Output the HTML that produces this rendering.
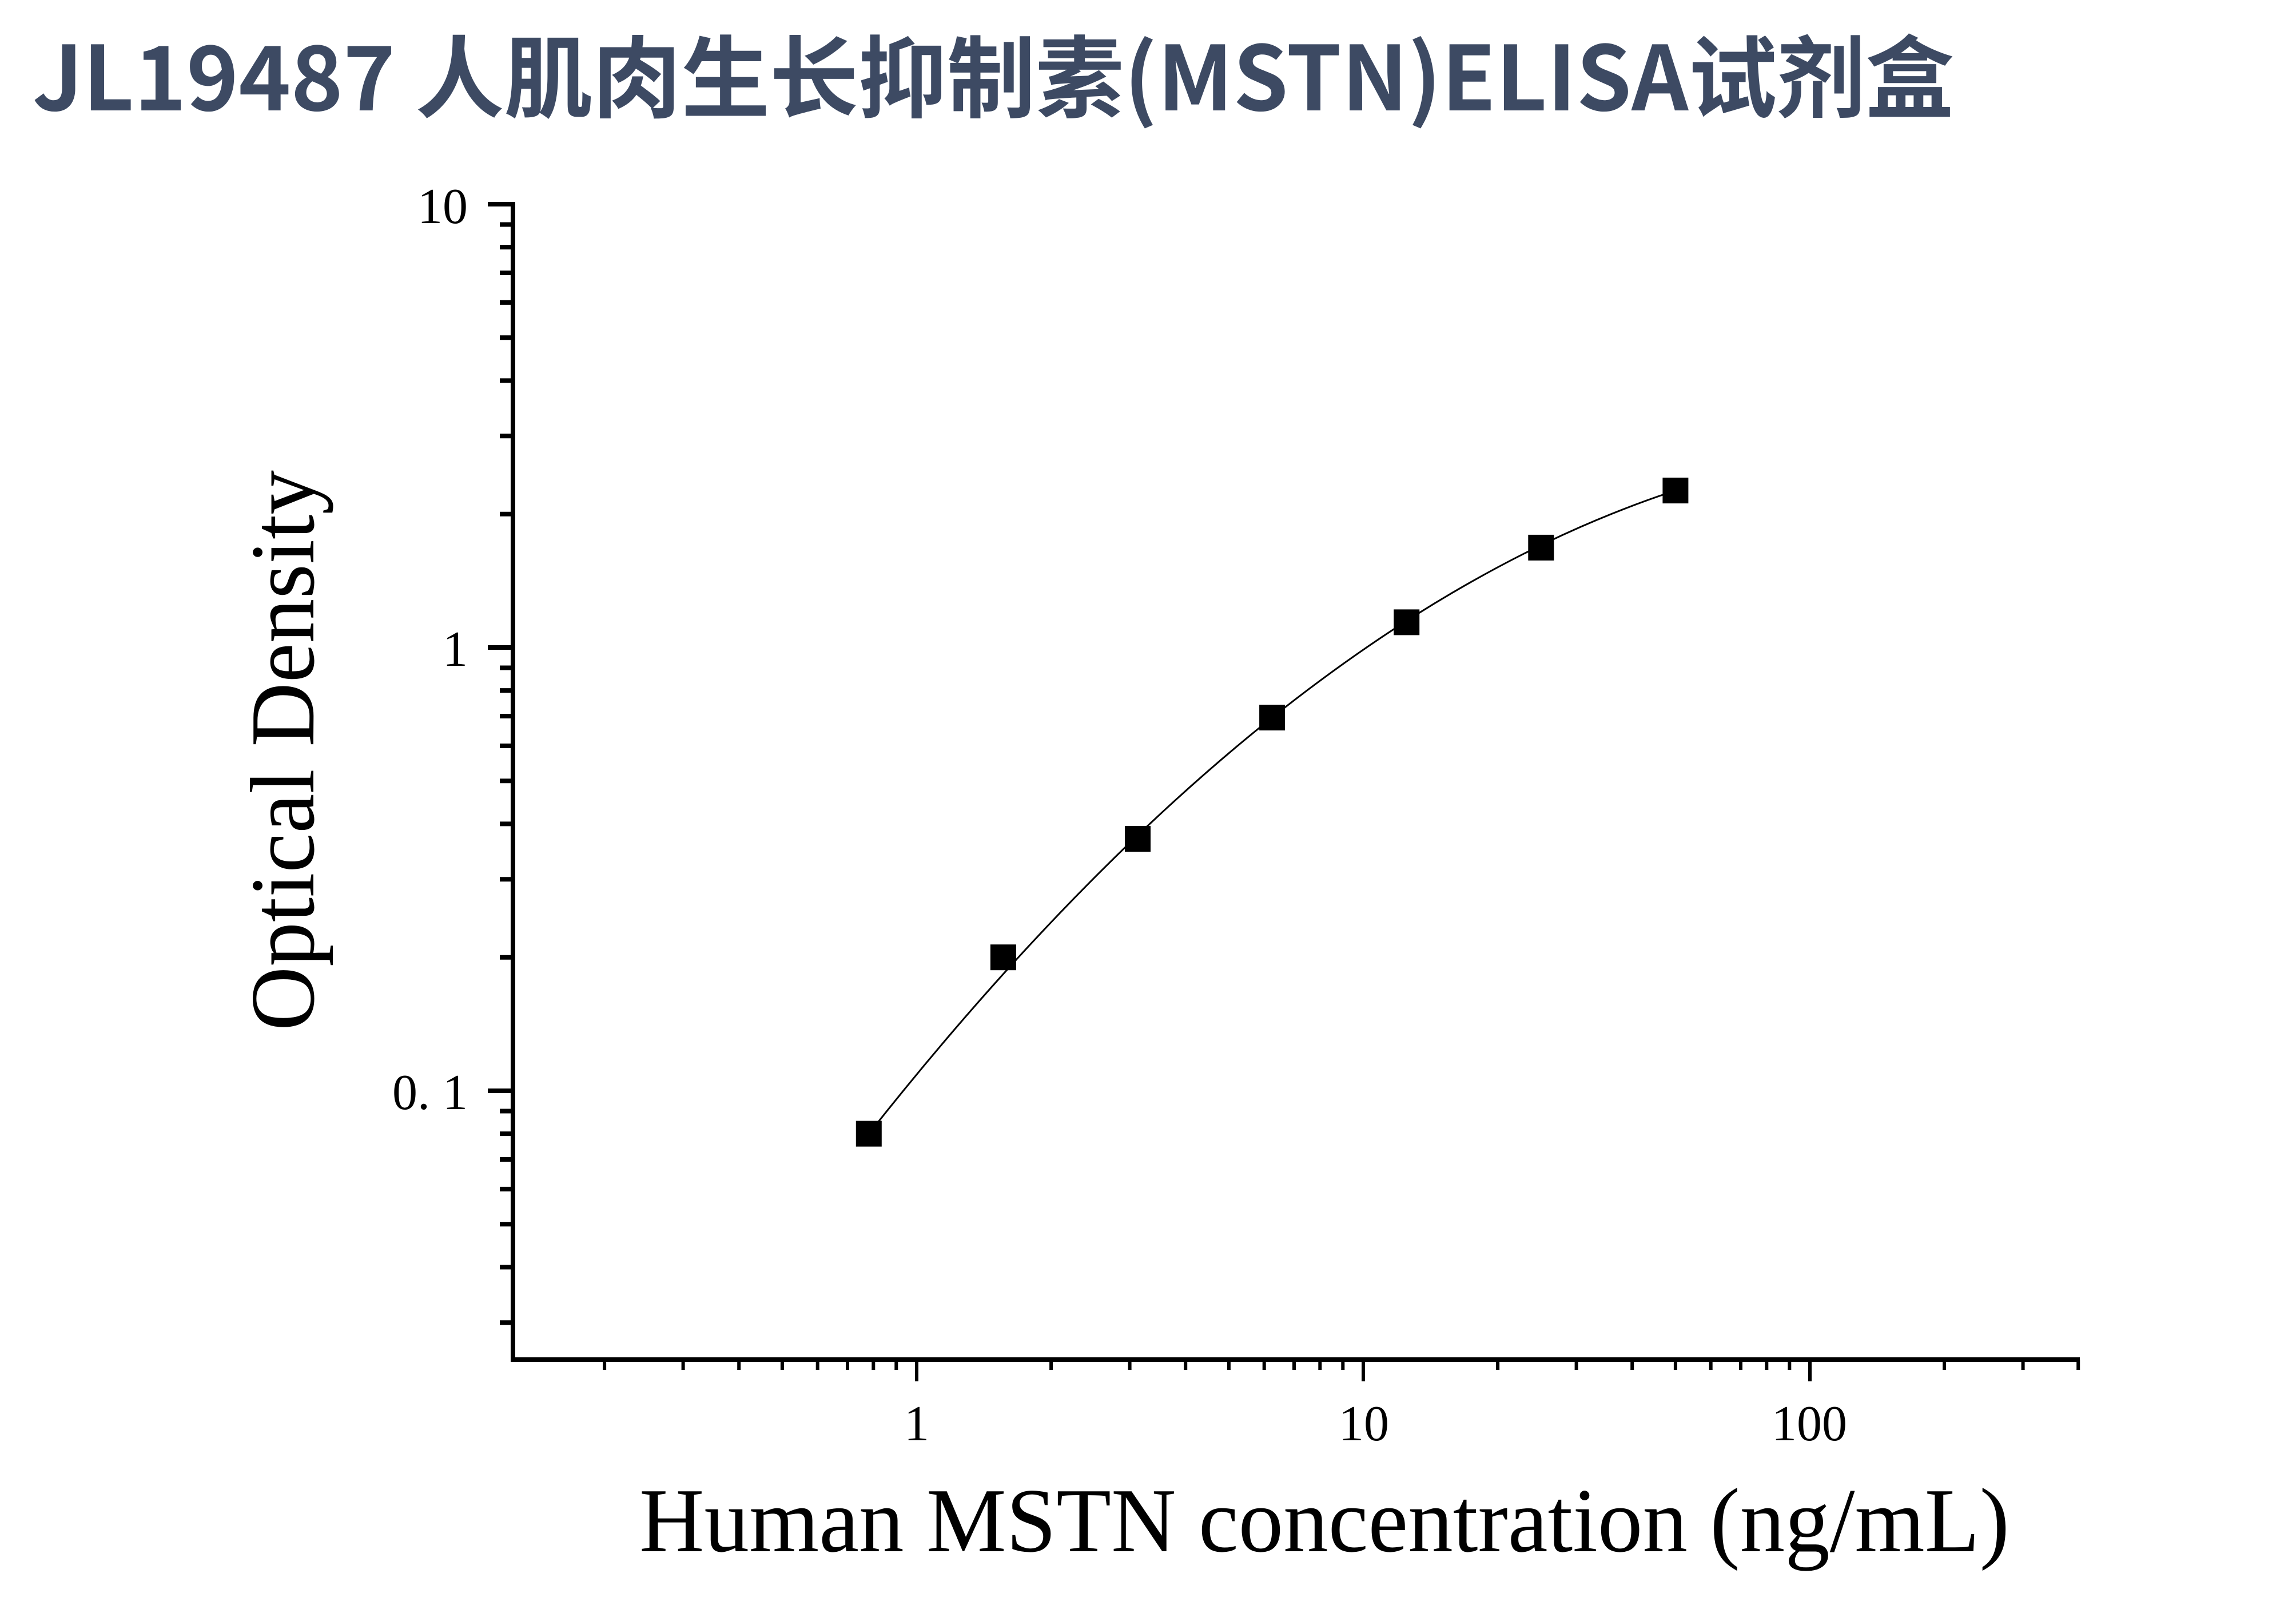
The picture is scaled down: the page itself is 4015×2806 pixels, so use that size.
<!DOCTYPE html>
<html><head><meta charset="utf-8"><style>html,body{margin:0;padding:0;background:#fff}svg{display:block}</style></head>
<body>
<svg xmlns="http://www.w3.org/2000/svg" width="4015" height="2806" viewBox="0 0 4015 2806">
<rect width="4015" height="2806" fill="#fff"/>
<text x="57" y="193" font-family="'Noto Sans CJK SC','WenQuanYi Zen Hei',sans-serif" font-weight="bold" font-size="156" fill="#3d4a63" textLength="3360" lengthAdjust="spacingAndGlyphs">JL19487 人肌肉生长抑制素(MSTN)ELISA试剂盒</text>
<g stroke="#000" fill="none" stroke-width="8">
<line x1="897" y1="353" x2="897" y2="2381"/>
<line x1="893" y1="2377" x2="3637" y2="2377"/>
<line x1="897" y1="357" x2="853" y2="357"/>
<line x1="897" y1="1132" x2="853" y2="1132"/>
<line x1="897" y1="1907" x2="853" y2="1907"/>
<path d="M897 898.7H874M897 762.2H874M897 665.4H874M897 590.3H874M897 528.9H874M897 477H874M897 432.1H874M897 392.5H874
M897 1673.7H874M897 1537.2H874M897 1440.4H874M897 1365.3H874M897 1303.9H874M897 1252H874M897 1207.1H874M897 1167.5H874
M897 2312.2H874M897 2215.4H874M897 2140.3H874M897 2078.9H874M897 2027H874M897 1982.1H874M897 1942.5H874"/>
</g>
<g stroke="#000" fill="none" stroke-width="6">
<path d="M1603 2377V2415M2384 2377V2415M3165 2377V2415"/>
<path d="M1057.1 2377V2395M1194.6 2377V2395M1292.2 2377V2395M1367.9 2377V2395M1429.7 2377V2395M1482 2377V2395M1527.3 2377V2395M1567.3 2377V2395
M1838.1 2377V2395M1975.6 2377V2395M2073.2 2377V2395M2148.9 2377V2395M2210.7 2377V2395M2263 2377V2395M2308.3 2377V2395M2348.3 2377V2395
M2619.1 2377V2395M2756.6 2377V2395M2854.2 2377V2395M2929.9 2377V2395M2991.7 2377V2395M3044 2377V2395M3089.3 2377V2395M3129.3 2377V2395
M3400.1 2377V2395M3537.6 2377V2395M3634.2 2377V2395"/>
</g>
<g font-family="'Liberation Serif',serif" fill="#000">
<text x="818" y="390" font-size="88" text-anchor="end">10</text>
<text x="818" y="1164" font-size="88" text-anchor="end">1</text>
<text x="818" y="1939" font-size="88" text-anchor="end">0. 1</text>
<text x="1603" y="2518" font-size="88" text-anchor="middle">1</text>
<text x="2385" y="2518" font-size="88" text-anchor="middle">10</text>
<text x="3164" y="2518" font-size="88" text-anchor="middle">100</text>
<text x="2316" y="2712" font-size="160" text-anchor="middle" textLength="2396" lengthAdjust="spacingAndGlyphs">Human MSTN concentration (ng/mL)</text>
<text transform="translate(548,1312) rotate(-90)" x="0" y="0" font-size="160" text-anchor="middle" textLength="980" lengthAdjust="spacingAndGlyphs">Optical Density</text>
</g>
<path d="M1519.3 1982.1 Q2224.6 1089.15 2929.9 857.6" fill="none" stroke="#000" stroke-width="3"/>
<g fill="#000">
<rect x="1496.8" y="1959.6" width="45" height="45"/>
<rect x="1731.9" y="1651.2" width="45" height="45"/>
<rect x="1967" y="1444.1" width="45" height="45"/>
<rect x="2202.1" y="1232" width="45" height="45"/>
<rect x="2437.2" y="1065.4" width="45" height="45"/>
<rect x="2672.3" y="934.9" width="45" height="45"/>
<rect x="2907.4" y="835.1" width="45" height="45"/>
</g>
</svg>
</body></html>
